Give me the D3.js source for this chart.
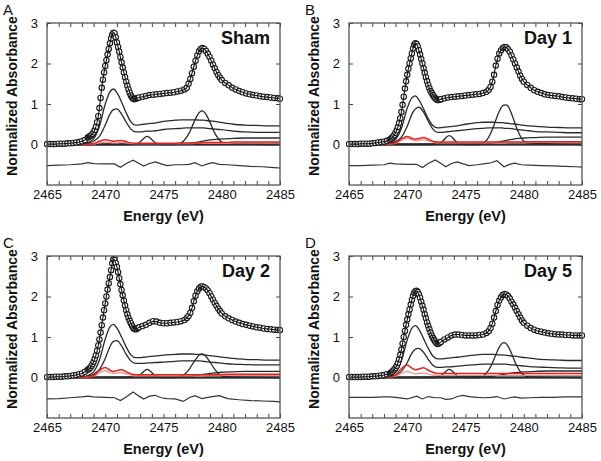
<!DOCTYPE html>
<html><head><meta charset="utf-8">
<script src="https://cdn.jsdelivr.net/npm/d3@7"></script>
<style>body{margin:0;background:#fff}svg{font-family:"Liberation Sans",Arial,sans-serif}</style>
</head><body><svg id="c" width="601" height="461"></svg>
<script>
// ---------- DATA ----------
const panelLetters = ["A","B","C","D"];
const panelTitles = ["Sham","Day 1","Day 2","Day 5"];
const xTicks = [2465,2470,2475,2480,2485];
const yTicks = [0,1,2,3];
const xLabel = "Energy (eV)";
const yLabel = "Normalized Absorbance";

// energy sampling of the measured spectra (eV)
const obsEnergy = [].concat(
  d3.range(14).map(i => 2465 + i*0.25),
  d3.range(45).map(i => 2468.5 + i*0.1),
  d3.range(13).map(i => 2473.2 + i*0.3),
  d3.range(21).map(i => 2477 + i*0.15),
  d3.range(16).map(i => 2480.3 + i*0.3),
  [2485]);

const obsSham = [0.01,0.01,0.01,0.01,0.02,0.02,0.02,0.03,0.03,0.04,0.05,0.06,0.08,0.11,
 0.17,0.19,0.21,0.23,0.26, 0.30,0.36,0.44,0.55,0.70,0.90,1.15,1.40,1.60,1.78,
 1.94,2.08,2.22,2.36,2.50,2.62,2.71,2.76,2.75,2.65, 2.52,2.41,2.29,2.16,2.03,1.90,1.78,1.66,1.55,1.45,
 1.36,1.28,1.21,1.16,1.13,1.12,1.13,1.14,1.15,1.16,
 1.18,1.20,1.22,1.23,1.24,1.25,1.26,1.27,1.28,1.29,1.31,1.33,1.36,
 1.40,1.50,1.62,1.76,1.92,2.07,2.20,2.30,2.36,2.38,2.36,2.31,2.24,2.16,2.07,1.97,1.88,1.79,1.71,1.65,1.59,
 1.52,1.46,1.40,1.36,1.32,1.29,1.26,1.24,1.22,1.21,1.19,1.18,1.17,1.16,1.15,1.14,1.13];
const obsDay1 = [0.01,0.01,0.01,0.01,0.02,0.02,0.02,0.02,0.03,0.04,0.05,0.06,0.07,0.09,
 0.12,0.14,0.17,0.20,0.24, 0.29,0.35,0.43,0.53,0.65,0.80,0.98,1.18,1.38,1.56,
 1.72,1.87,2.00,2.13,2.25,2.37,2.46,2.50,2.48,2.42, 2.33,2.22,2.11,2.00,1.88,1.77,1.66,1.56,1.47,1.39,
 1.32,1.27,1.22,1.18,1.14,1.12,1.10,1.10,1.11,1.12,
 1.14,1.16,1.17,1.18,1.19,1.20,1.21,1.22,1.23,1.24,1.25,1.27,1.30,
 1.35,1.42,1.55,1.72,1.95,2.12,2.25,2.33,2.38,2.41,2.40,2.35,2.29,2.20,2.10,2.00,1.90,1.80,1.70,1.62,1.55,
 1.47,1.40,1.34,1.30,1.27,1.24,1.22,1.21,1.20,1.19,1.17,1.16,1.15,1.14,1.13,1.12,1.12];
const obsDay2 = [0.01,0.01,0.01,0.02,0.02,0.02,0.03,0.03,0.04,0.05,0.06,0.08,0.10,0.14,
 0.19,0.21,0.24,0.28,0.33, 0.39,0.46,0.55,0.66,0.79,0.94,1.11,1.29,1.48,1.66,
 1.83,2.00,2.17,2.33,2.48,2.65,2.82,2.92,2.90,2.83, 2.73,2.60,2.45,2.30,2.16,2.03,1.90,1.78,1.66,1.56,
 1.47,1.40,1.34,1.28,1.23,1.20,1.19,1.20,1.22,1.24,
 1.27,1.30,1.35,1.39,1.38,1.35,1.34,1.34,1.35,1.36,1.37,1.39,1.42,
 1.47,1.52,1.60,1.72,1.88,2.02,2.13,2.20,2.24,2.25,2.23,2.20,2.15,2.08,2.00,1.92,1.84,1.77,1.70,1.64,1.58,
 1.51,1.46,1.42,1.38,1.35,1.32,1.30,1.28,1.26,1.24,1.23,1.21,1.20,1.19,1.18,1.17,1.17];
const obsDay5 = [0.01,0.01,0.01,0.01,0.01,0.02,0.02,0.02,0.03,0.03,0.04,0.05,0.06,0.08,
 0.10,0.12,0.14,0.17,0.20, 0.24,0.29,0.36,0.45,0.56,0.69,0.84,1.00,1.15,1.30,
 1.43,1.56,1.68,1.80,1.92,2.02,2.09,2.13,2.14,2.11, 2.05,1.97,1.87,1.77,1.67,1.56,1.46,1.36,1.27,1.19,
 1.11,1.04,0.98,0.93,0.89,0.85,0.83,0.84,0.86,0.88,
 0.94,0.99,1.04,1.06,1.06,1.05,1.04,1.04,1.04,1.04,1.05,1.06,1.10,
 1.15,1.22,1.33,1.48,1.64,1.79,1.90,1.98,2.04,2.06,2.05,2.01,1.95,1.87,1.80,1.72,1.64,1.56,1.48,1.41,1.35,
 1.28,1.22,1.18,1.15,1.13,1.11,1.09,1.08,1.07,1.06,1.06,1.05,1.05,1.04,1.04,1.04,1.04];

// energy grid of the broad fitted components
const compEnergy = [2465,2466,2467,2468,2468.5,2469,2469.5,2470,2470.4,2470.7,2471,2471.4,2471.8,2472.2,2472.6,2473,2473.3,2473.6,2473.9,2474.3,2475,2476,2476.5,2477,2477.4,2477.8,2478.1,2478.4,2478.7,2479,2479.4,2479.8,2480.5,2481,2482,2483,2484,2485];
const compA_Sham = [0,0,0.01,0.02,0.05,0.14,0.45,1.0,1.3,1.37,1.28,1.05,0.78,0.56,0.48,0.49,0.5,0.51,0.52,0.53,0.57,0.6,0.61,0.61,0.61,0.61,0.6,0.6,0.59,0.58,0.57,0.55,0.52,0.5,0.48,0.47,0.46,0.46];
const compB_Sham = [0,0,0,0.01,0.03,0.08,0.2,0.48,0.75,0.86,0.88,0.75,0.55,0.38,0.31,0.31,0.32,0.33,0.33,0.34,0.37,0.39,0.4,0.41,0.41,0.41,0.41,0.41,0.4,0.39,0.38,0.37,0.35,0.33,0.31,0.3,0.3,0.3];
const compA_Day1 = [0,0,0.01,0.02,0.05,0.13,0.4,0.9,1.15,1.2,1.1,0.88,0.64,0.47,0.41,0.42,0.43,0.44,0.45,0.46,0.5,0.54,0.55,0.55,0.55,0.54,0.54,0.53,0.52,0.51,0.5,0.48,0.46,0.45,0.43,0.42,0.41,0.41];
const compB_Day1 = [0,0,0,0.01,0.03,0.07,0.18,0.45,0.75,0.88,0.92,0.8,0.58,0.38,0.3,0.3,0.31,0.32,0.33,0.34,0.36,0.39,0.4,0.41,0.41,0.41,0.41,0.4,0.4,0.39,0.37,0.36,0.34,0.32,0.31,0.3,0.29,0.29];
const compA_Day2 = [0,0,0.01,0.02,0.05,0.14,0.43,0.95,1.25,1.31,1.22,1.0,0.75,0.56,0.49,0.49,0.5,0.51,0.52,0.53,0.55,0.57,0.58,0.58,0.58,0.57,0.57,0.56,0.55,0.54,0.53,0.51,0.49,0.47,0.45,0.44,0.43,0.43];
const compB_Day2 = [0,0,0,0.01,0.03,0.08,0.2,0.47,0.76,0.89,0.91,0.78,0.57,0.41,0.35,0.35,0.35,0.36,0.36,0.37,0.38,0.4,0.41,0.41,0.41,0.41,0.41,0.4,0.39,0.38,0.37,0.36,0.34,0.33,0.32,0.31,0.31,0.31];
const compA_Day5 = [0,0,0.01,0.02,0.05,0.13,0.42,0.93,1.22,1.28,1.19,0.96,0.72,0.53,0.46,0.46,0.47,0.48,0.49,0.5,0.53,0.56,0.57,0.57,0.57,0.56,0.56,0.55,0.54,0.53,0.52,0.5,0.48,0.46,0.44,0.43,0.42,0.42];
const compB_Day5 = [0,0,0,0.01,0.02,0.06,0.15,0.37,0.6,0.7,0.72,0.62,0.45,0.3,0.25,0.25,0.26,0.26,0.27,0.28,0.3,0.32,0.33,0.33,0.33,0.33,0.33,0.33,0.32,0.31,0.3,0.29,0.27,0.26,0.25,0.24,0.23,0.23];
// red components on the same grid
const red1_Sham = [0,0,0,0,0,0.02,0.08,0.12,0.1,0.08,0.09,0.1,0.07,0.04,0.03,0.03,0.03,0.03,0.03,0.03,0.03,0.03,0.04,0.04,0.04,0.04,0.04,0.05,0.05,0.05,0.05,0.05,0.05,0.06,0.06,0.06,0.06,0.06];
const red2_Sham = [0,0,0,0,0,0.01,0.04,0.06,0.05,0.04,0.04,0.05,0.04,0.02,0.02,0.02,0.02,0.02,0.02,0.02,0.02,0.02,0.02,0.02,0.02,0.03,0.03,0.03,0.03,0.03,0.03,0.03,0.03,0.04,0.04,0.04,0.04,0.04];
const red1_Day1 = [0,0,0,0,0.01,0.04,0.14,0.2,0.15,0.13,0.15,0.17,0.13,0.08,0.06,0.06,0.06,0.06,0.06,0.06,0.06,0.06,0.06,0.06,0.06,0.06,0.06,0.06,0.06,0.06,0.06,0.06,0.07,0.07,0.07,0.07,0.07,0.07];
const red2_Day1 = [0,0,0,0,0.01,0.03,0.1,0.15,0.11,0.09,0.1,0.12,0.09,0.06,0.04,0.04,0.04,0.04,0.04,0.04,0.04,0.04,0.04,0.04,0.04,0.04,0.04,0.04,0.05,0.05,0.05,0.05,0.05,0.05,0.05,0.05,0.05,0.05];
const red1_Day2 = [0,0,0,0,0.01,0.05,0.17,0.25,0.18,0.15,0.17,0.19,0.14,0.09,0.07,0.07,0.07,0.07,0.07,0.07,0.07,0.07,0.07,0.07,0.07,0.07,0.07,0.07,0.07,0.07,0.07,0.07,0.08,0.08,0.08,0.08,0.08,0.08];
const red2_Day2 = [0,0,0,0,0.01,0.03,0.11,0.17,0.12,0.1,0.11,0.12,0.09,0.06,0.04,0.04,0.04,0.04,0.04,0.04,0.04,0.04,0.04,0.04,0.04,0.04,0.04,0.04,0.05,0.05,0.05,0.05,0.05,0.05,0.05,0.05,0.05,0.05];
const red1_Day5 = [0,0,0,0,0.01,0.06,0.22,0.31,0.23,0.19,0.21,0.24,0.18,0.13,0.1,0.1,0.1,0.1,0.1,0.1,0.1,0.1,0.1,0.1,0.1,0.1,0.1,0.1,0.1,0.1,0.1,0.1,0.1,0.1,0.1,0.1,0.1,0.1];
const red2_Day5 = [0,0,0,0,0.01,0.03,0.1,0.15,0.11,0.09,0.1,0.11,0.08,0.06,0.05,0.05,0.05,0.05,0.05,0.05,0.05,0.05,0.05,0.05,0.05,0.05,0.05,0.05,0.05,0.05,0.05,0.05,0.05,0.05,0.05,0.05,0.05,0.05];

// narrow peak near 2473.6 eV
const peak1Energy = [2465,2472.4,2472.8,2473.1,2473.35,2473.6,2473.85,2474.1,2474.4,2474.8,2485];
const peak1_Sham = [0,0,0.03,0.09,0.16,0.2,0.16,0.09,0.03,0,0];
const peak1_Day1 = [0,0,0.03,0.1,0.18,0.22,0.18,0.1,0.03,0,0];
const peak1_Day2 = [0,0,0.03,0.09,0.16,0.2,0.16,0.09,0.03,0,0];
const peak1_Day5 = [0,0,0.03,0.09,0.16,0.2,0.16,0.09,0.03,0,0];
// peak near 2478.3 eV
const peak2Energy = [2465,2476.3,2476.8,2477.2,2477.6,2477.9,2478.1,2478.3,2478.5,2478.7,2479,2479.4,2479.8,2480.3,2485];
const peak2_Sham = [0,0.02,0.11,0.28,0.54,0.72,0.8,0.83,0.8,0.72,0.54,0.28,0.11,0.02,0];
const peak2_Day1 = [0,0.02,0.1,0.3,0.6,0.82,0.93,0.97,0.98,0.93,0.72,0.4,0.16,0.04,0];
const peak2_Day2 = [0,0.02,0.08,0.2,0.38,0.5,0.56,0.58,0.56,0.5,0.38,0.2,0.08,0.02,0];
const peak2_Day5 = [0,0.02,0.11,0.29,0.56,0.75,0.83,0.86,0.83,0.75,0.56,0.29,0.11,0.02,0];
// step component
const stepEnergy = [2465,2476,2477,2477.8,2478.5,2479.2,2480,2481,2482,2485];
const step_Sham = [0,0,0.02,0.05,0.09,0.12,0.14,0.15,0.16,0.16];
const step_Day1 = [0,0,0.02,0.06,0.1,0.14,0.16,0.17,0.18,0.18];
const step_Day2 = [0,0,0.02,0.05,0.08,0.11,0.13,0.14,0.15,0.15];
const step_Day5 = [0,0,0.02,0.05,0.09,0.12,0.14,0.15,0.16,0.16];

// residuals
const resEnergy = [2465,2466,2467,2468,2468.5,2469,2470,2470.8,2471.3,2471.8,2472.4,2472.9,2473.3,2473.8,2474.3,2474.8,2475.3,2476,2476.7,2477.2,2477.7,2478.3,2478.8,2479.2,2479.8,2480.5,2481.5,2482.5,2483.5,2484.5,2485];
const res_Sham = [-0.52,-0.51,-0.5,-0.48,-0.45,-0.47,-0.48,-0.48,-0.56,-0.47,-0.39,-0.47,-0.53,-0.47,-0.43,-0.48,-0.52,-0.5,-0.5,-0.49,-0.45,-0.53,-0.48,-0.45,-0.49,-0.5,-0.52,-0.54,-0.55,-0.57,-0.58];
const res_Day1 = [-0.52,-0.52,-0.51,-0.5,-0.46,-0.48,-0.49,-0.49,-0.57,-0.47,-0.38,-0.47,-0.55,-0.47,-0.43,-0.48,-0.52,-0.5,-0.47,-0.45,-0.4,-0.55,-0.49,-0.46,-0.5,-0.51,-0.52,-0.53,-0.54,-0.55,-0.56];
const res_Day2 = [-0.53,-0.52,-0.5,-0.48,-0.46,-0.48,-0.49,-0.5,-0.57,-0.48,-0.36,-0.46,-0.53,-0.46,-0.44,-0.5,-0.52,-0.53,-0.59,-0.5,-0.45,-0.52,-0.49,-0.47,-0.45,-0.52,-0.55,-0.57,-0.58,-0.59,-0.6];
const res_Day5 = [-0.49,-0.49,-0.49,-0.48,-0.48,-0.49,-0.53,-0.46,-0.53,-0.47,-0.5,-0.5,-0.54,-0.53,-0.47,-0.44,-0.47,-0.49,-0.5,-0.49,-0.47,-0.53,-0.5,-0.48,-0.51,-0.5,-0.49,-0.49,-0.48,-0.48,-0.48];

// ---------- LAYOUT ----------
const panels = [
  {letter:panelLetters[0], title:panelTitles[0], obs:obsSham, cA:compA_Sham, cB:compB_Sham, r1:red1_Sham, r2:red2_Sham, p1:peak1_Sham, p2:peak2_Sham, st:step_Sham, res:res_Sham, left:47, top:23},
  {letter:panelLetters[1], title:panelTitles[1], obs:obsDay1, cA:compA_Day1, cB:compB_Day1, r1:red1_Day1, r2:red2_Day1, p1:peak1_Day1, p2:peak2_Day1, st:step_Day1, res:res_Day1, left:349, top:23},
  {letter:panelLetters[2], title:panelTitles[2], obs:obsDay2, cA:compA_Day2, cB:compB_Day2, r1:red1_Day2, r2:red2_Day2, p1:peak1_Day2, p2:peak2_Day2, st:step_Day2, res:res_Day2, left:47, top:256},
  {letter:panelLetters[3], title:panelTitles[3], obs:obsDay5, cA:compA_Day5, cB:compB_Day5, r1:red1_Day5, r2:red2_Day5, p1:peak1_Day5, p2:peak2_Day5, st:step_Day5, res:res_Day5, left:349, top:256}
];
const PW = 233, PH = 162;
const svg = d3.select("#c");
const x = d3.scaleLinear().domain([2465,2485]).range([0,PW]);
const y = d3.scaleLinear().domain([-1,3]).range([PH,0]);
const zip = (xs, ys) => xs.map((v,i) => [v, ys[i]]);
const smooth = d3.line().x(d=>x(d[0])).y(d=>y(d[1])).curve(d3.curveMonotoneX);
const straight = d3.line().x(d=>x(d[0])).y(d=>y(d[1]));

panels.forEach(p => {
  const g = svg.append("g").attr("transform", `translate(${p.left},${p.top})`);
  const clipId = "clip" + p.letter;
  g.append("clipPath").attr("id", clipId).append("rect").attr("x",-3).attr("width", PW+6).attr("height", PH);
  const plot = g.append("g").attr("clip-path", `url(#${clipId})`);

  // zero line
  plot.append("line").attr("x1",0).attr("x2",PW).attr("y1",y(0)).attr("y2",y(0))
    .attr("stroke","#111").attr("stroke-width",2);

  const comp = (xs, ys, color, w) => plot.append("path").attr("d", smooth(zip(xs, ys)))
    .attr("fill","none").attr("stroke",color).attr("stroke-width",w);
  comp(stepEnergy, p.st, "#2a2a2a", 1.3);
  comp(peak1Energy, p.p1, "#2a2a2a", 1.3);
  comp(peak2Energy, p.p2, "#2a2a2a", 1.3);
  comp(compEnergy, p.cB, "#2a2a2a", 1.3);
  comp(compEnergy, p.cA, "#2a2a2a", 1.3);
  comp(compEnergy, p.r2, "#f08a8a", 1.2);
  comp(compEnergy, p.r1, "#e0231c", 1.5);
  plot.append("path").attr("d", straight(zip(resEnergy, p.res)))
    .attr("fill","none").attr("stroke","#333").attr("stroke-width",1.2);

  // measured data circles + fit
  const pts = zip(obsEnergy, p.obs);
  plot.selectAll("circle.obs").data(pts).join("circle").attr("class","obs")
    .attr("cx", d=>x(d[0])).attr("cy", d=>y(d[1])).attr("r", 2.7)
    .attr("fill","#fff").attr("stroke","#1a1a1a").attr("stroke-width",1.1);
  plot.append("path").attr("d", straight(pts)).attr("fill","none").attr("stroke","#111").attr("stroke-width",1.1);

  // axes
  const tickStyle = sel => { sel.select(".domain").remove(); sel.selectAll("line").attr("stroke","#444"); };
  g.append("g").attr("transform",`translate(0,${PH})`)
    .call(d3.axisBottom(x).tickValues(d3.range(2465,2486,1)).tickSize(-4).tickFormat(""))
    .call(tickStyle);
  g.append("g")
    .call(d3.axisTop(x).tickValues(d3.range(2465,2486,1)).tickSize(-4).tickFormat(""))
    .call(tickStyle);
  const xb = g.append("g").attr("transform",`translate(0,${PH})`)
    .call(d3.axisBottom(x).tickValues(xTicks).tickSize(0).tickPadding(5).tickFormat(d3.format("d")));
  xb.select(".domain").remove();
  xb.selectAll("text").attr("font-size",13).attr("fill","#111").attr("font-family","Liberation Sans, Arial, sans-serif");
  const yl = g.append("g").call(d3.axisLeft(y).tickValues(yTicks).tickSize(-4).tickPadding(9).tickFormat(d3.format("d")));
  tickStyle(yl);
  yl.selectAll("text").attr("font-size",13).attr("fill","#111").attr("font-family","Liberation Sans, Arial, sans-serif");
  g.append("g").attr("transform",`translate(${PW},0)`)
    .call(d3.axisRight(y).tickValues(yTicks).tickSize(-4).tickFormat("")).call(tickStyle);

  g.append("rect").attr("width",PW).attr("height",PH).attr("fill","none").attr("stroke","#555").attr("stroke-width",1.3);

  // labels
  g.append("text").attr("x",PW/2).attr("y",PH+36).attr("text-anchor","middle")
    .attr("font-size",14.5).attr("font-weight","bold").attr("fill","#111").text(xLabel);
  g.append("text").attr("transform",`translate(-30,${PH/2 - 8}) rotate(-90)`).attr("text-anchor","middle")
    .attr("font-size",14).attr("font-weight","bold").attr("fill","#111").text(yLabel);
  g.append("text").attr("x",PW-10).attr("y",21).attr("text-anchor","end")
    .attr("font-size",18).attr("font-weight","bold").attr("fill","#111").text(p.title);
  g.append("text").attr("x",-44).attr("y",-8).attr("font-size",15).attr("fill","#111").text(p.letter);
});
</script></body></html>
